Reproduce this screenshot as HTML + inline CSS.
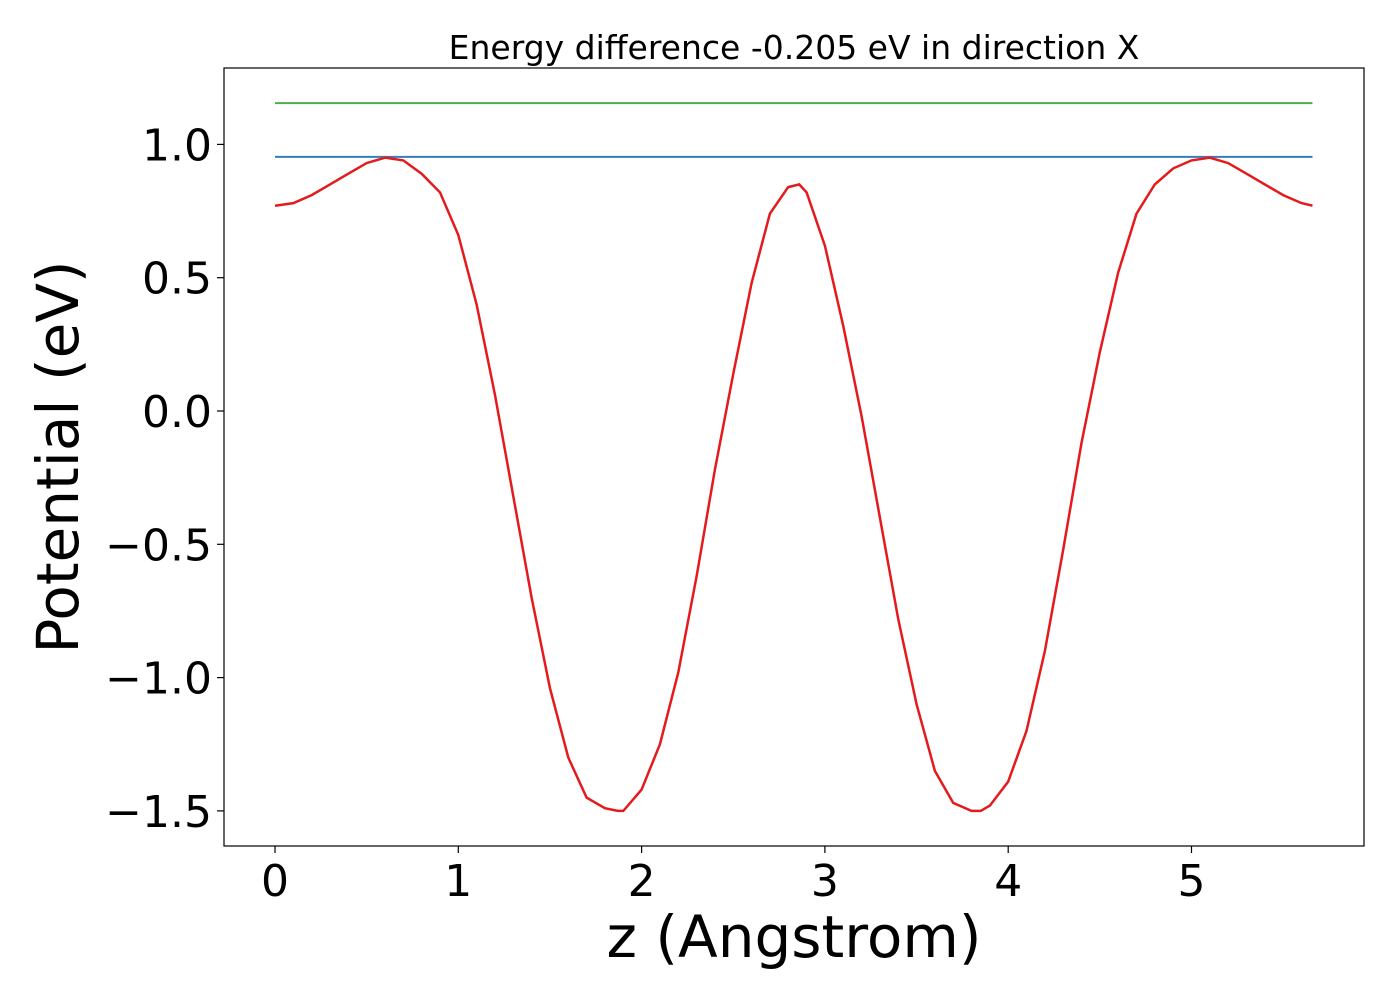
<!DOCTYPE html>
<html><head><meta charset="utf-8"><style>
html,body{margin:0;padding:0;background:#fff;}
svg text{font-family:"DejaVu Sans","Liberation Sans",sans-serif;fill:#000;}
</style></head><body>
<svg id="chart" width="1400" height="1000" xmlns="http://www.w3.org/2000/svg">
<rect width="1400" height="1000" fill="#fff"/>
<text x="794" y="59" font-size="33" text-anchor="middle">Energy difference -0.205 eV in direction X</text>
<g id="plot"></g>
<rect x="224" y="68" width="1140" height="778" fill="none" stroke="#000" stroke-width="1.2"/>
<text x="794" y="957" font-size="58" text-anchor="middle">z (Angstrom)</text>
<text transform="translate(78,457) rotate(-90)" font-size="58" text-anchor="middle">Potential (eV)</text>
</svg>
<script>
const zValues=[0,0.1,0.2,0.3,0.4,0.5,0.6,0.7,0.8,0.9,1.0,1.1,1.2,1.3,1.4,1.5,1.6,1.7,1.8,1.87,1.9,2.0,2.1,2.2,2.3,2.4,2.5,2.6,2.7,2.8,2.86,2.9,3.0,3.1,3.2,3.3,3.4,3.5,3.6,3.7,3.8,3.85,3.9,4.0,4.1,4.2,4.3,4.4,4.5,4.6,4.7,4.8,4.9,5.0,5.1,5.2,5.3,5.4,5.5,5.6,5.66];
const potential=[0.77,0.78,0.81,0.85,0.89,0.93,0.95,0.94,0.89,0.82,0.66,0.40,0.06,-0.32,-0.70,-1.04,-1.30,-1.45,-1.49,-1.50,-1.50,-1.42,-1.25,-0.98,-0.62,-0.22,0.14,0.48,0.74,0.84,0.85,0.82,0.62,0.32,-0.02,-0.40,-0.78,-1.10,-1.35,-1.47,-1.50,-1.50,-1.48,-1.39,-1.20,-0.90,-0.52,-0.12,0.22,0.52,0.74,0.85,0.91,0.94,0.95,0.93,0.89,0.85,0.81,0.78,0.77];
const blueLevel=0.953;
const greenLevel=1.155;
const xTicks=[0,1,2,3,4,5];
const yTicks=[1.0,0.5,0.0,-0.5,-1.0,-1.5];
const yTickLabels=["1.0","0.5","0.0","\u22120.5","\u22121.0","\u22121.5"];

const X=v=>275+v*183.3;
const Y=v=>411-v*266.6;
const NS="http://www.w3.org/2000/svg";
const g=document.getElementById('plot');
function mk(t,a){const e=document.createElementNS(NS,t);for(const k in a)e.setAttribute(k,a[k]);g.appendChild(e);return e;}
xTicks.forEach(t=>{
  const l=mk('line',{x1:X(t),x2:X(t),y1:846,y2:853,stroke:'#000','stroke-width':1.2});
  
  
  const tx=mk('text',{x:X(t),y:896,'font-size':44,'text-anchor':'middle'});
  tx.textContent=t;
  
  
});
yTicks.forEach((t,i)=>{
  const l=mk('line',{x1:217,x2:224,y1:Y(t),y2:Y(t),stroke:'#000','stroke-width':1.2});
  
  
  const tx=mk('text',{x:212,y:Y(t)+16,'font-size':44,'text-anchor':'end'});
  tx.textContent=yTickLabels[i];
  
  
});
const x0=zValues[0],x1=zValues[zValues.length-1];
const gl=mk('line',{x1:X(x0),x2:X(x1),y1:Y(greenLevel),y2:Y(greenLevel),stroke:'#4daf4a','stroke-width':2});


const bl=mk('line',{x1:X(x0),x2:X(x1),y1:Y(blueLevel),y2:Y(blueLevel),stroke:'#377eb8','stroke-width':2});


const pts=zValues.map((z,i)=>X(z).toFixed(1)+','+Y(potential[i]).toFixed(1)).join(' ');
const pl=mk('polyline',{points:pts,fill:'none',stroke:'#e41a1c','stroke-width':2.5});


</script>
</body></html>
